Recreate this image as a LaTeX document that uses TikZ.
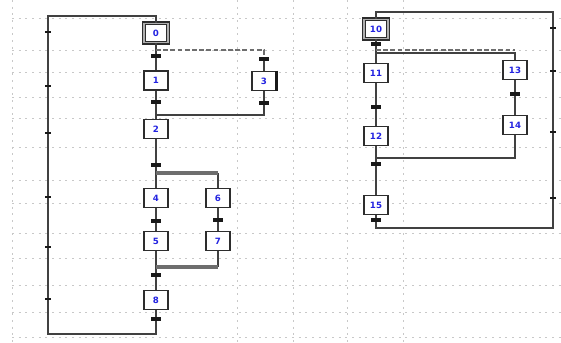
\documentclass[tikz,border=0pt]{standalone}
\usepackage{fontspec}
\newfontfamily\stepfont{DejaVu Sans}
\usetikzlibrary{positioning}

\tikzset{every picture/.style={line width=0.75pt}}
\tikzset{
  stepbox/.style={draw={rgb,255:red,45;green,45;blue,45}, fill=white, line width=1.1pt,
    minimum width=18pt, minimum height=14.5pt, inner sep=0pt,
    font=\stepfont\bfseries\fontsize{6.5}{7.5}\selectfont, text={rgb,255:red,35;green,35;blue,225}},
  initbox/.style={stepbox, double={rgb,255:red,175;green,175;blue,175}, double distance=1.2pt, line width=0.9pt},
  trans/.style={fill={rgb,255:red,25;green,25;blue,25}, minimum width=7pt, minimum height=2.3pt, inner sep=0pt},
  loopmark/.style={fill={rgb,255:red,25;green,25;blue,25}, minimum width=4.5pt, minimum height=1.2pt, inner sep=0pt},
  link/.style={draw={rgb,255:red,65;green,65;blue,65}, line width=1.1pt},
  dashlink/.style={draw={rgb,255:red,110;green,110;blue,110}, line width=1.3pt, dash pattern={on 3.6pt off 1.8pt}},
  parbar/.style={draw={rgb,255:red,110;green,110;blue,110}, line width=2.6pt},
  gridline/.style={draw={rgb,255:red,200;green,200;blue,200}, line width=0.6pt, dash pattern={on 1.6pt off 3.4pt}}
}

\begin{document}
\begin{tikzpicture}[x=0.75pt,y=0.75pt,yscale=-1,xscale=1]
\useasboundingbox (0,0) rectangle (561,343);

%Grid
\foreach \gy in {18,50,72,97,118,147,180,203,233,258,285,312,337}
  \draw[gridline] (12,\gy) -- (561,\gy);
\foreach \gx in {12,237,293,347,403}
  \draw[gridline] (\gx,0) -- (\gx,343);

%Left chart: steps
\node[initbox] (s0) at (156,33) {0};
\node[stepbox] (s1) at (156,80.5) {1};
\node[stepbox] (s3) at (264,81) {3};
\node[stepbox] (s2) at (156,129) {2};
\node[stepbox] (s4) at (156,198) {4};
\node[stepbox] (s6) at (218,198) {6};
\node[stepbox] (s5) at (156,241) {5};
\node[stepbox] (s7) at (218,241) {7};
\node[stepbox] (s8) at (156,300) {8};
\draw[line width=2pt, draw={rgb,255:red,25;green,25;blue,25}] (s3.north east) -- (s3.south east);

%Left chart: transitions
\node[trans] (t0a) at (156,56) {};
\node[trans] (t0b) at (264,59) {};
\node[trans] (t1) at (156,102) {};
\node[trans] (t3) at (264,103) {};
\node[trans] (t2) at (156,165) {};
\node[trans] (t4) at (156,221) {};
\node[trans] (t6) at (218,220) {};
\node[trans] (t5) at (156,275) {};
\node[trans] (t8) at (156,319) {};

%Left chart: junctions
\coordinate (lt) at (48,16);
\coordinate (lb) at (48,334);
\coordinate (d0) at (156,50);
\coordinate (j1) at (156,115);
\coordinate (p1) at (156,173);
\coordinate (p2) at (156,267);

%Left chart: links
\draw[link] (t8) |- (lb) -- (lt) -| (s0);
\draw[link] (s0) -- (t0a) -- (s1) -- (t1) -- (s2) -- (t2) -- (s4);
\draw[dashlink] (d0) -| (t0b);
\draw[link] (t0b) -- (s3) -- (t3) |- (j1);
\draw[link] (s4) -- (t4) -- (s5) -- (t5) -- (s8) -- (t8);
\draw[link] (p1 -| s6) -- (s6) -- (t6) -- (s7) -- (s7 |- p2);
\draw[parbar] (p1) -- (p1 -| s6);
\draw[parbar] (p2) -- (p2 -| s7);
\foreach \my in {32,86,133,197,247,299}
  \node[loopmark] (ml\my) at (48,\my) {};

%Right chart: steps
\node[initbox] (s10) at (376,29) {10};
\node[stepbox] (s11) at (376,73) {11};
\node[stepbox] (s12) at (376,136) {12};
\node[stepbox] (s15) at (376,205) {15};
\node[stepbox] (s13) at (515,70) {13};
\node[stepbox] (s14) at (515,125) {14};

%Right chart: transitions
\node[trans] (t10) at (376,44) {};
\node[trans] (t11) at (376,107) {};
\node[trans] (t13) at (515,94) {};
\node[trans] (t12) at (376,164) {};
\node[trans] (t15) at (376,220) {};

%Right chart: junctions
\coordinate (rt) at (553,12);
\coordinate (rb) at (553,228);
\coordinate (d1) at (376,50);
\coordinate (d2) at (376,53);
\coordinate (j2) at (376,158);

%Right chart: links
\draw[link] (t15) |- (rb) -- (rt) -| (s10);
\draw[link] (s10) -- (t10) -- (s11) -- (t11) -- (s12) -- (t12) -- (s15) -- (t15);
\draw[dashlink] (d1) -- (d1 -| s13);
\draw[link] (d2) -| (s13);
\draw[link] (s13) -- (t13) -- (s14) |- (j2);
\draw[link, line width=1.6pt] (j2) -- (j2 -| s14);
\foreach \my in {28,71,132,198}
  \node[loopmark] (mr\my) at (553,\my) {};

\end{tikzpicture}
\end{document}
